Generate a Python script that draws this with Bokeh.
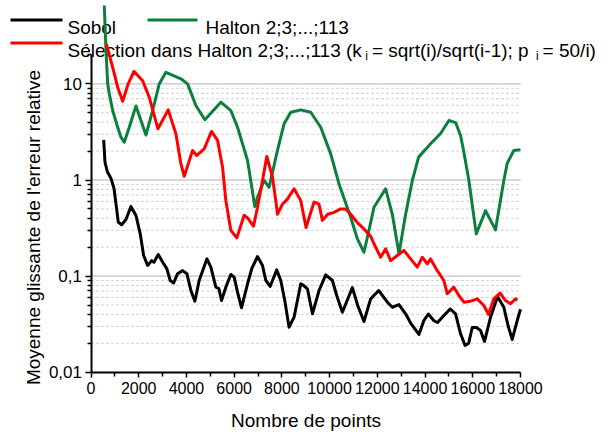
import numpy as np
from bokeh.plotting import figure
from bokeh.models import FixedTicker, Label, Arrow, Range1d
from bokeh.embed import file_html
from bokeh.resources import INLINE

# ---------------- data ----------------
sobol_x = [532, 586, 691, 837, 963, 1047, 1143, 1285, 1465, 1674, 1884, 2064, 2206, 2373,
           2541, 2637, 2817, 3001, 3181, 3320, 3462, 3629, 3838, 4019, 4186, 4353, 4533,
           4856, 5023, 5233, 5358, 5471, 5651, 5860, 5999, 6141, 6308, 6560, 6740, 6978,
           7188, 7326, 7506, 7786, 7953, 8121, 8301, 8510, 8791, 8916, 9071, 9280, 9557,
           9837, 10118, 10298, 10536, 10955, 11177, 11440, 11720, 12056, 12420, 12629,
           12906, 13186, 13395, 13743, 13952, 14136, 14371, 14525, 14789, 15049, 15279,
           15488, 15677, 15823, 15978, 16158, 16325, 16493, 16744, 17037, 17301, 17477,
           17653, 17862, 18000]
sobol_y = [2.62, 1.53, 1.21, 1.04, 0.82, 0.565, 0.364, 0.342, 0.388, 0.53, 0.428, 0.275,
           0.164, 0.129, 0.145, 0.139, 0.168, 0.140, 0.119, 0.090, 0.0847, 0.106, 0.114,
           0.106, 0.0708, 0.0548, 0.090, 0.151, 0.124, 0.0767, 0.0743, 0.0557, 0.0767,
           0.104, 0.0975, 0.068, 0.0468, 0.0832, 0.12, 0.16, 0.129, 0.090, 0.078, 0.116,
           0.090, 0.0557, 0.0294, 0.0373, 0.0832, 0.0798, 0.0738, 0.0405, 0.0708, 0.103,
           0.090, 0.0628, 0.042, 0.076, 0.0494, 0.0337, 0.058, 0.0708, 0.0535, 0.0474,
           0.0506, 0.0405, 0.0325, 0.0247, 0.0345, 0.0403, 0.0343, 0.0329, 0.0389, 0.0455,
           0.0405, 0.0251, 0.019, 0.0199, 0.0292, 0.0292, 0.0272, 0.0209, 0.0373, 0.0614,
           0.0474, 0.0306, 0.0219, 0.0345, 0.0452]

halton_x = [557, 628, 699, 767, 908, 1118, 1256, 1394, 1604, 1884, 2093, 2302, 2583, 2860,
            3140, 3767, 4048, 4395, 4772, 5442, 5860, 6141, 6560, 6865, 6978, 7254, 7464,
            7815, 8092, 8372, 8791, 9209, 9628, 10046, 10394, 10884, 11164, 11440, 11650,
            11860, 12348, 12629, 12906, 13186, 13467, 13730, 14232, 14651, 14999, 15280,
            15488, 15614, 15836, 16146, 16535, 16953, 17301, 17443, 17720, 18000]
halton_y = [65.4, 22.3, 10.1, 7.9, 5.28, 3.54, 2.79, 2.47, 3.54, 5.89, 4.16, 2.94, 5.28,
            10.0, 13.2, 11.3, 10.0, 5.96, 4.23, 6.45, 5.28, 3.54, 1.60, 0.53, 0.66, 0.99,
            0.84, 2.03, 3.85, 5.07, 5.37, 5.07, 3.54, 1.87, 0.91, 0.41, 0.244, 0.177, 0.30,
            0.52, 0.81, 0.44, 0.171, 0.44, 0.99, 1.73, 2.38, 3.05, 4.16, 3.96, 2.90, 2.03,
            0.99, 0.275, 0.48, 0.303, 0.99, 1.49, 2.03, 2.06]

select_x = [640, 908, 1118, 1327, 1549, 1800, 2164, 2440, 2805, 3236, 3558, 3767, 3906,
            4257, 4437, 4743, 5052, 5304, 5513, 5651, 5860, 6112, 6417, 6572, 6811, 6978,
            7188, 7367, 7606, 7744, 7815, 8025, 8246, 8510, 8791, 9013, 9348, 9557, 9699,
            9921, 10185, 10465, 10674, 10884, 11164, 11440, 11720, 11859, 12139, 12349,
            12558, 12838, 13115, 13395, 13676, 13885, 14094, 14232, 14513, 14789, 14931,
            15208, 15417, 15627, 15907, 16187, 16464, 16660, 16882, 17141, 17372, 17581,
            17790, 17874]
select_y = [26.0, 14.9, 9.25, 6.59, 9.86, 13.5, 10.8, 7.28, 3.41, 5.37, 3.03, 1.48, 1.09,
            2.03, 1.80, 2.11, 3.20, 2.58, 1.36, 0.61, 0.30, 0.25, 0.43, 0.40, 0.33, 0.52,
            0.99, 1.76, 1.07, 0.61, 0.44, 0.56, 0.64, 0.81, 0.61, 0.32, 0.59, 0.56, 0.38,
            0.44, 0.46, 0.50, 0.50, 0.44, 0.36, 0.31, 0.26, 0.217, 0.157, 0.192, 0.145,
            0.164, 0.185, 0.151, 0.124, 0.157, 0.134, 0.151, 0.114, 0.090, 0.0655, 0.0767,
            0.0628, 0.0535, 0.0548, 0.058, 0.0494, 0.0398, 0.058, 0.0667, 0.0557, 0.0515,
            0.058, 0.0564]

x_ticks = [0, 2000, 4000, 6000, 8000, 10000, 12000, 14000, 16000, 18000]
x_minor = [1000, 3000, 5000, 7000, 9000, 11000, 13000, 15000, 17000]
y_ticks = [0.01, 0.1, 1, 10]
y_tick_labels = ["0,01", "0,1", "1", "10"]
y_minor = [m * d for d in (0.01, 0.1, 1) for m in range(2, 10)] + [20]

legend_names = ["Sobol", "Halton 2;3;...;113"]
legend_sel = ["Sélection dans Halton 2;3;...;113 (k", "i", " = sqrt(i)/sqrt(i-1); p", "i", " = 50/i)"]

FONT = "Liberation Sans"
BLACK, GREEN, RED = "#000000", "#0b7f3d", "#ff0000"

# ---------------- geometry (pixels, figure sits at the page origin) ----------------
W, H = 612, 432
AX_LEFT, AX_RIGHT = 90.5, 520    # pixel columns of x = 0 and x = 18000
AX_BOTTOM = 371.7                # pixel row (from top) of y = 0.01
DECADE = 96.1                    # pixels per decade
x_per_px = (x_ticks[-1] - x_ticks[0]) / (AX_RIGHT - AX_LEFT)
x_start = x_ticks[0] - AX_LEFT * x_per_px
x_end = x_ticks[0] + (W - AX_LEFT) * x_per_px
y_end = 0.01 * 10 ** (AX_BOTTOM / DECADE)
y_start = 0.01 * 10 ** (-(H - AX_BOTTOM) / DECADE)

p = figure(width=W, height=H, y_axis_type="log",
           x_range=Range1d(x_start, x_end), y_range=Range1d(y_start, y_end),
           min_border=0, output_backend="svg", toolbar_location=None)
p.outline_line_color = None
p.background_fill_color = "white"
p.border_fill_color = "white"
p.xgrid.visible = False
p.ygrid.visible = False

# horizontal grid lines drawn across the axis span only
g_major = [v for v in y_ticks if v > 0.01]
g_minor = [v for v in y_minor if v < 10]
p.multi_line(xs=[[x_ticks[0], x_ticks[-1]]] * len(g_minor), ys=[[v, v] for v in g_minor],
             line_color="#d2d2d2", line_width=1, line_dash="3 2")
p.multi_line(xs=[[x_ticks[0], x_ticks[-1]]] * len(g_major), ys=[[v, v] for v in g_major],
             line_color="#b4b4b4", line_width=1)

for ax in (p.xaxis[0], p.yaxis[0]):
    ax.axis_line_color = "black"
    ax.axis_line_width = 2
    ax.major_tick_line_color = "black"
    ax.major_tick_line_width = 1.5
    ax.minor_tick_line_color = "black"
    ax.minor_tick_line_width = 1.5
    ax.major_tick_in = 0
    ax.minor_tick_in = 0
    ax.major_label_text_font = FONT
    ax.major_label_text_color = "black"

xa = p.xaxis[0]
xa.fixed_location = 0.01
xa.ticker = FixedTicker(ticks=x_ticks, minor_ticks=x_minor)
xa.bounds = (x_ticks[0], x_ticks[-1])
xa.major_tick_out = 5
xa.minor_tick_out = 4
xa.major_label_text_font_size = "16px"
xa.major_label_standoff = 5
xa.axis_label = "Nombre de points"
xa.axis_label_text_font = FONT
xa.axis_label_text_font_size = "19px"
xa.axis_label_text_font_style = "normal"
xa.axis_label_text_color = "black"
xa.axis_label_standoff = 12

ya = p.yaxis[0]
ya.fixed_location = 0
ya.ticker = FixedTicker(ticks=y_ticks, minor_ticks=y_minor)
ya.bounds = (0.01, 20)
ya.major_tick_out = 6
ya.minor_tick_out = 4
ya.major_label_text_font_size = "17px"
ya.major_label_standoff = 3
ya.major_label_overrides = {v: s for v, s in zip(y_ticks, y_tick_labels)}

# series
p.line(sobol_x, sobol_y, line_color=BLACK, line_width=3, line_join="round")
p.line(halton_x, halton_y, line_color=GREEN, line_width=3, line_join="round")
p.line(select_x, select_y, line_color=RED, line_width=3, line_join="round")

# y axis title (screen units, y measured up from the bottom)
p.add_layout(Label(x=33, y=H - 227, x_units="screen", y_units="screen",
                   text="Moyenne glissante de l'erreur relative", angle=np.pi / 2,
                   text_align="center", text_baseline="middle", text_font=FONT,
                   text_font_size="19px", text_color="black"))

# ---------------- manual legend ----------------
CW = {' ': 278, '(': 333, ')': 333, '-': 333, '.': 278, '/': 278, ';': 278, '=': 584,
      'H': 722, 'S': 667, 'a': 556, 'b': 556, 'c': 500, 'd': 556, 'e': 556, 'é': 556,
      'i': 222, 'k': 500, 'l': 222, 'n': 556, 'o': 556, 'p': 556, 'q': 556, 'r': 333,
      's': 500, 't': 278, 'u': 556}


def tw(s, size):
    return sum(CW.get(c, 556) for c in s) * size / 1000.0


LS = 19
SUB = 12
row1_line, row1_base = H - 19.5, H - 27.0
row2_line, row2_base = H - 42.5, H - 50.0


def leg_line(x0, x1, y, color):
    p.add_layout(Arrow(x_start=x0, y_start=y, x_end=x1, y_end=y, start_units="screen",
                       end_units="screen", start=None, end=None, line_color=color,
                       line_width=3))


def leg_text(x, y, s, size):
    p.add_layout(Label(x=x, y=y, x_units="screen", y_units="screen", text=s,
                       text_font=FONT, text_font_size=f"{size}px", text_color="black",
                       text_baseline="alphabetic", text_align="left", level="underlay"))


leg_line(10, 62, row1_line, BLACK)
leg_text(67, row1_base, legend_names[0], LS)
leg_line(147, 197, row1_line, GREEN)
leg_text(205, row1_base, legend_names[1], LS)

leg_line(10, 62, row2_line, RED)
xpos = 67
for k, piece in enumerate(legend_sel):
    if k % 2 == 1:
        leg_text(xpos + 2, row2_base - 5, piece, SUB)
        xpos += tw(piece, SUB) + 6
    else:
        leg_text(xpos, row2_base, piece, LS)
        xpos += tw(piece, LS)

open("out.html", "w").write(file_html(p, INLINE))
